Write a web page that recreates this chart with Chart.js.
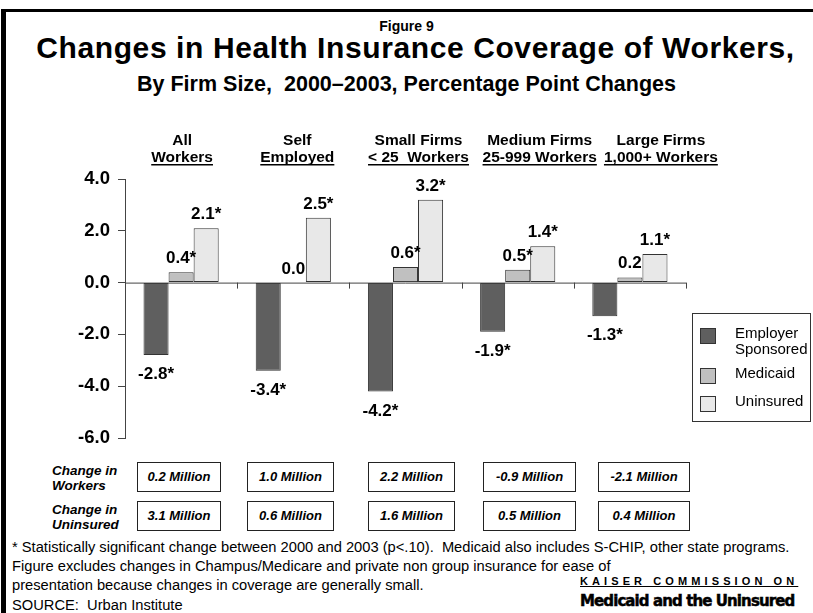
<!DOCTYPE html>
<html>
<head>
<meta charset="utf-8">
<script src="https://cdn.jsdelivr.net/npm/chart.js@4/dist/chart.umd.min.js"></script>
<style>
  body { margin:0; width:813px; height:613px; position:relative; overflow:hidden; background:#fff;
         font-family:"Liberation Sans", Arial, sans-serif; color:#000; }
  .frame { position:absolute; left:1px; top:9px; width:820px; height:620px;
           border-top:3px solid #000; border-left:5px solid #000; }
  .t { position:absolute; left:0; width:813px; text-align:center; font-weight:bold; white-space:nowrap; }
  #wrap { position:absolute; left:0; top:120px; width:813px; height:340px; }
  #legend { position:absolute; left:692px; top:313px; width:117px; height:107px;
            border:1px solid #333; background:#fff; font-size:15px; }
  #legend .it { position:absolute; left:7px; }
  #legend .sw { position:absolute; left:0; top:0; width:14px; height:14px; border:1px solid #333; }
  #legend .tx { position:absolute; left:35px; top:-3px; width:80px; line-height:16px; }
  .rowlab { position:absolute; left:52px; font-weight:bold; font-style:italic; font-size:13.5px; line-height:15px; }
  .box { position:absolute; height:28px; border:1px solid #222; font-weight:bold; font-style:italic;
         font-size:13px; line-height:28px; text-align:center; }
  .note { position:absolute; left:12px; font-size:14.7px; white-space:nowrap; }
  .k1 { position:absolute; left:580px; top:575px; width:215px; font-weight:bold; font-size:11px;
        letter-spacing:4.1px; text-decoration:underline; white-space:nowrap; }
  .k2 { position:absolute; left:580px; top:592px; width:220px; font-weight:900; font-size:15px;
        white-space:nowrap; font-family:"DejaVu Sans", sans-serif; letter-spacing:-0.9px;
        -webkit-text-stroke:0.5px #000; }
</style>
</head>
<body>
<div class="frame"></div>
<div class="t" style="top:18px;font-size:14px;">Figure 9</div>
<div class="t" style="top:31px;left:9px;font-size:30px;letter-spacing:0.6px;">Changes in Health Insurance Coverage of Workers,</div>
<div class="t" style="top:72px;font-size:21.5px;">By Firm Size,&nbsp; 2000–2003, Percentage Point Changes</div>

<div id="wrap"><canvas id="chart"></canvas></div>
<div id="legend"></div>
<div id="table"></div>

<div class="note" style="top:539px;">* Statistically significant change between 2000 and 2003 (p&lt;.10).&nbsp; Medicaid also includes S-CHIP, other state programs.</div>
<div class="note" style="top:558px;">Figure excludes changes in Champus/Medicare and private non group insurance for ease of</div>
<div class="note" style="top:577px;">presentation because changes in coverage are generally small.</div>
<div class="note" style="top:597px;">SOURCE:&nbsp; Urban Institute</div>
<div class="k1">KAISER COMMISSION ON</div>
<div class="k2">Medicaid and the Uninsured</div>

<script>
// ----- data -----
const categories = [
  ["All", "Workers"],
  ["Self", "Employed"],
  ["Small Firms", "< 25  Workers"],
  ["Medium Firms", "25-999 Workers"],
  ["Large Firms", "1,000+ Workers"],
];
const seriesNames = ["Employer Sponsored", "Medicaid", "Uninsured"];
const employer  = [-2.8, -3.4, -4.2, -1.9, -1.3];
const medicaid  = [0.4, 0.0, 0.6, 0.5, 0.2];
const uninsured = [2.1, 2.5, 3.2, 1.4, 1.1];
// significance star (p<.10)
const employerSig  = [true, true, true, true, true];
const medicaidSig  = [true, false, true, true, false];
const uninsuredSig = [true, true, true, true, true];

const yTicks = [4, 2, 0, -2, -4, -6];

const rowLabels = [["Change in", "Workers"], ["Change in", "Uninsured"]];
const workersChange   = ["0.2 Million", "1.0 Million", "2.2 Million", "-0.9 Million", "-2.1 Million"];
const uninsuredChange = ["3.1 Million", "0.6 Million", "1.6 Million", "0.5 Million", "0.4 Million"];

const COLORS = ["#5f5f5f", "#c0c0c0", "#e8e8e8"];
const FONT = "'Liberation Sans', Arial, sans-serif";
// header text sits a bit right of the category centre in the original
const headerShift = [1, 4, 13, 22, 31];

// ----- plugin: zero line, value labels, group headers -----
const decor = {
  id: "decor",
  afterDatasetsDraw(chart) {
    const { ctx, scales: { x, y } } = chart;
    const y0 = y.getPixelForValue(0);
    const n = categories.length;
    const w = (x.right - x.left) / n;

    ctx.save();
    ctx.strokeStyle = "#444";
    ctx.lineWidth = 1;
    ctx.beginPath();
    ctx.moveTo(x.left, y0 + 0.5);
    ctx.lineTo(x.right, y0 + 0.5);
    for (let i = 1; i <= n; i++) {
      const bx = Math.round(x.left + i * w) + 0.5;
      ctx.moveTo(bx, y0);
      ctx.lineTo(bx, y0 + 6);
    }
    ctx.stroke();

    // value labels
    const sigs = [employerSig, medicaidSig, uninsuredSig];
    ctx.fillStyle = "#000";
    ctx.font = "bold 17px " + FONT;
    ctx.textAlign = "center";
    chart.data.datasets.forEach((ds, di) => {
      chart.getDatasetMeta(di).data.forEach((bar, i) => {
        const v = ds.data[i];
        const txt = v.toFixed(1) + (sigs[di][i] ? "*" : "");
        if (v >= 0) {
          ctx.textBaseline = "alphabetic";
          ctx.fillText(txt, bar.x, bar.y - 9);
        } else {
          ctx.textBaseline = "top";
          ctx.fillText(txt, bar.x, bar.y + 11);
        }
      });
    });

    // group headers (2nd line underlined)
    ctx.font = "bold 15.5px " + FONT;
    ctx.textBaseline = "alphabetic";
    categories.forEach((lines, i) => {
      const cx = x.getPixelForValue(i) + headerShift[i];
      ctx.fillText(lines[0], cx, 25);
      ctx.fillText(lines[1], cx, 42);
      const tw = ctx.measureText(lines[1]).width;
      ctx.fillRect(cx - tw / 2, 44, tw, 1.5);
    });
    ctx.restore();
  },
};

const datasets = [employer, medicaid, uninsured].map((d, i) => ({
  label: seriesNames[i],
  data: d,
  backgroundColor: COLORS[i],
  borderColor: "#333",
  borderWidth: 1,
  borderSkipped: false,
  categoryPercentage: 0.67,
  barPercentage: 1.0,
}));

const chart = new Chart(document.getElementById("chart"), {
  type: "bar",
  data: { labels: categories, datasets },
  options: {
    responsive: true,
    maintainAspectRatio: false,
    animation: false,
    layout: { padding: { top: 59, right: 127, bottom: 22, left: 0 } },
    plugins: { legend: { display: false }, tooltip: { enabled: false } },
    scales: {
      x: { display: false },
      y: {
        min: -6, max: 4,
        afterFit: (s) => { s.width = 125; },
        afterBuildTicks: (s) => { s.ticks = yTicks.map(v => ({ value: v })); },
        ticks: { color: "#000", font: { family: FONT, size: 18.5, weight: "bold" },
                 padding: 8, callback: (v) => Number(v).toFixed(1) },
        grid: { drawOnChartArea: false, tickLength: 7, color: "#444" },
        border: { color: "#444", width: 1 },
      },
    },
  },
  plugins: [decor],
});

// ----- legend -----
const legendTops = [14, 54, 82];
const $legend = document.getElementById("legend");
chart.data.datasets.forEach((ds, i) => {
  const it = document.createElement("div");
  it.className = "it";
  it.style.top = legendTops[i] + "px";
  it.innerHTML = `<div class="sw" style="background:${ds.backgroundColor}"></div><div class="tx">${ds.label}</div>`;
  $legend.appendChild(it);
});

// ----- bottom table -----
const boxLeft  = [137, 247, 368, 483, 598];
const boxWidth = [82, 85, 85, 91, 90];
const rowTops  = [462, 501];
const table = document.getElementById("table");
[workersChange, uninsuredChange].forEach((row, r) => {
  const lab = document.createElement("div");
  lab.className = "rowlab";
  lab.style.top = (rowTops[r] + 1) + "px";
  lab.innerHTML = rowLabels[r].join("<br>");
  table.appendChild(lab);
  row.forEach((txt, i) => {
    const b = document.createElement("div");
    b.className = "box";
    b.style.left = boxLeft[i] + "px";
    b.style.top = rowTops[r] + "px";
    b.style.width = boxWidth[i] + "px";
    b.textContent = txt;
    table.appendChild(b);
  });
});
</script>
</body>
</html>
